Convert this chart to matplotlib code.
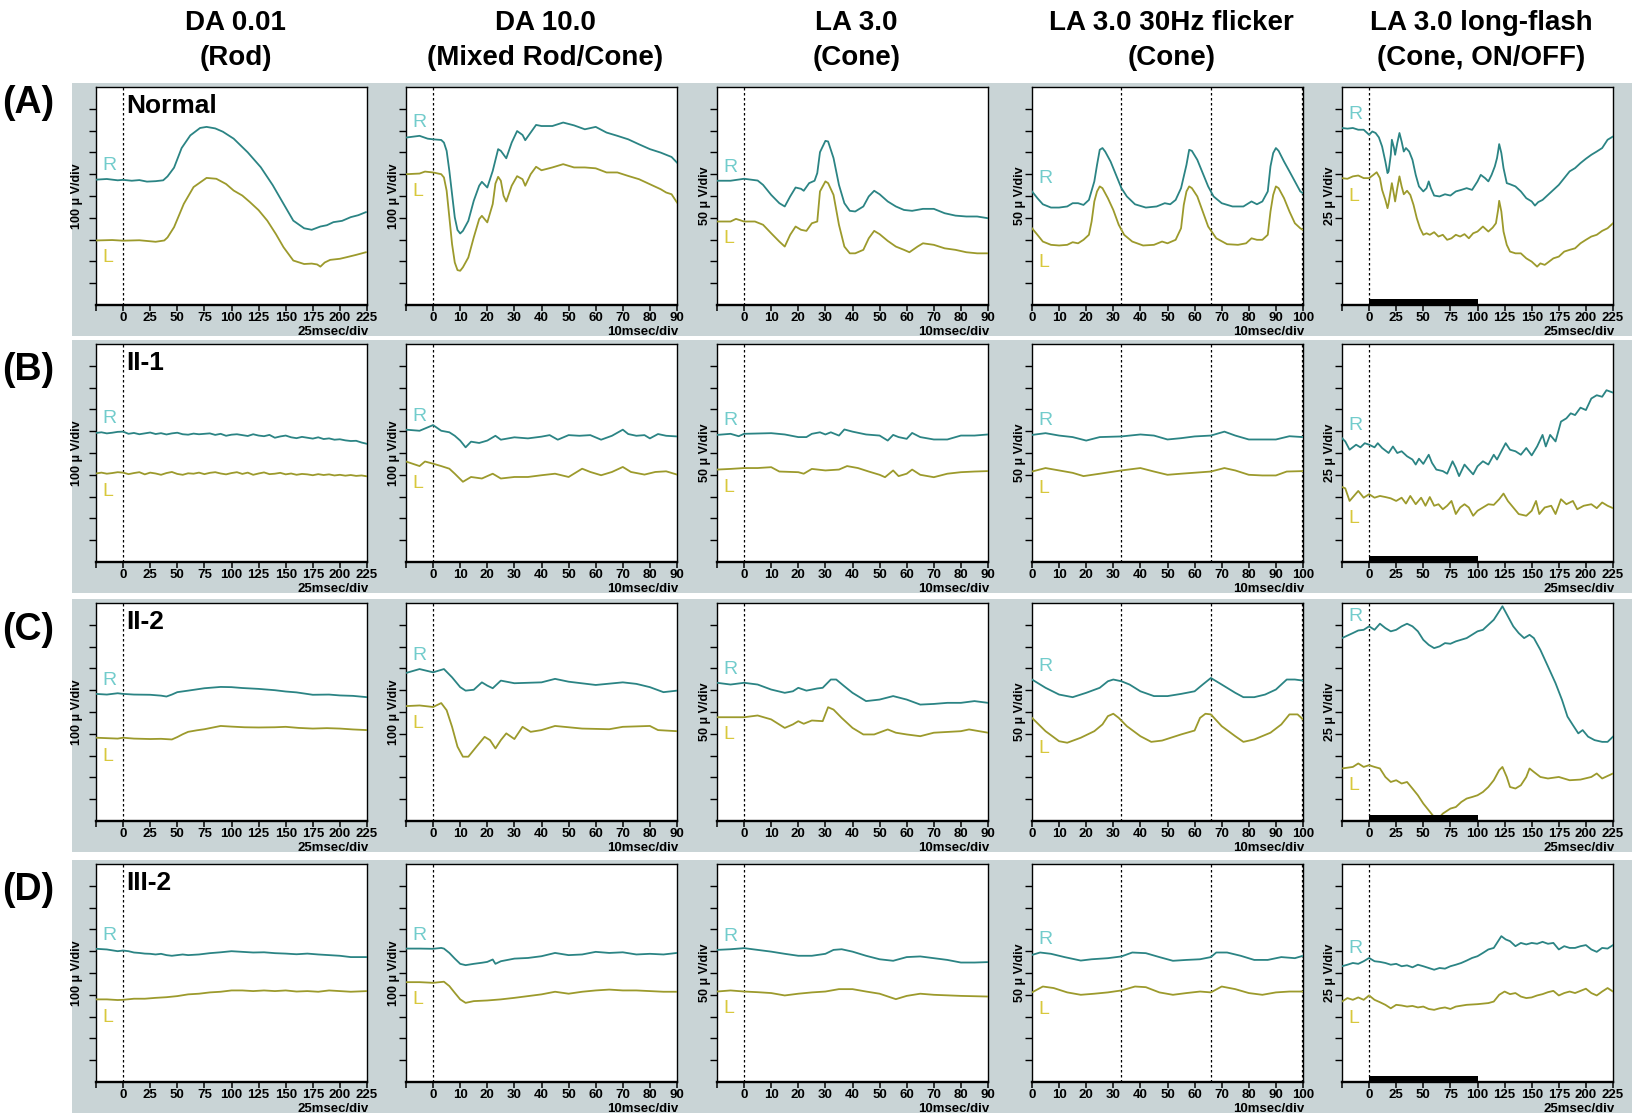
import numpy as np
import matplotlib.pyplot as plt
from matplotlib.patches import Rectangle

plt.rcParams['font.family'] = ['Liberation Sans', 'DejaVu Sans']

# Traces read off the recorder screens: height in divisions above the bottom
# of each 10-division window (scale per column below), time in ms.

grid5 = list(range(-25, 230, 5))

# ---------------- (A) Normal ----------------
A1_R_t = [-25, -15, -5, 0, 8, 15, 22, 30, 37, 41, 47, 54, 62, 71, 77, 85, 92, 102, 115, 127, 138, 148,
          157, 167, 174, 182, 188, 194, 202, 210, 217, 224]
A1_R = [5.75, 5.78, 5.72, 5.74, 5.70, 5.73, 5.66, 5.68, 5.72, 5.90, 6.30, 7.20, 7.78, 8.12, 8.17, 8.10,
        7.95, 7.63, 7.00, 6.32, 5.50, 4.64, 3.87, 3.52, 3.45, 3.60, 3.66, 3.80, 3.86, 4.03, 4.12, 4.26]
A1_L_t = [-25, -10, 0, 15, 30, 38, 41, 47, 56, 65, 77, 86, 95, 102, 110, 117, 125, 133, 141, 148, 157,
          167, 174, 179, 182, 186, 191, 200, 206, 215, 224]
A1_L = [2.96, 2.98, 2.95, 2.97, 2.90, 2.96, 3.10, 3.57, 4.64, 5.41, 5.83, 5.79, 5.55, 5.25, 5.02, 4.72,
        4.35, 3.87, 3.25, 2.65, 2.04, 1.88, 1.90, 1.86, 1.76, 1.95, 2.07, 2.12, 2.19, 2.30, 2.42]

A2_R_t = [-10, -5, -2, 0, 3, 4, 5, 6, 7, 8, 9, 10, 11, 13, 15, 17, 18, 20, 22, 24, 25, 27, 29, 31, 33,
          34, 36, 38, 40, 44, 48, 52, 56, 60, 64, 68, 72, 76, 80, 84, 86, 88, 90]
A2_R = [7.68, 7.76, 7.63, 7.60, 7.57, 7.45, 7.07, 6.15, 5.08, 4.02, 3.44, 3.28, 3.40, 3.86, 4.78, 5.47,
        5.65, 5.39, 6.15, 7.15, 7.07, 6.73, 7.45, 7.98, 7.80, 7.56, 7.91, 8.26, 8.21, 8.21, 8.37, 8.24,
        8.06, 8.17, 7.91, 7.76, 7.60, 7.37, 7.15, 6.99, 6.89, 6.79, 6.53]
A2_L_t = [-10, -5, -3, 0, 3, 4, 5, 6, 7, 8, 9, 10, 11, 13, 15, 17, 18, 20, 22, 23, 24, 25, 26, 27, 29,
          31, 33, 34, 36, 38, 40, 44, 48, 52, 56, 60, 64, 68, 72, 76, 80, 84, 86, 88, 90]
A2_L = [6.00, 6.03, 6.12, 6.08, 6.00, 5.85, 5.24, 4.02, 2.79, 1.95, 1.60, 1.57, 1.73, 2.18, 3.10, 3.94,
        4.09, 3.79, 4.63, 5.57, 5.88, 5.70, 5.01, 4.75, 5.47, 5.91, 5.77, 5.47, 6.00, 6.34, 6.18, 6.31,
        6.46, 6.31, 6.31, 6.27, 6.08, 6.08, 5.92, 5.77, 5.54, 5.31, 5.16, 5.08, 4.70]

A3_R_t = [-10, -5, 0, 5, 7, 10, 13, 15, 17, 19, 21, 22, 24, 26, 27, 28, 30, 31, 33, 35, 37, 39, 41, 44,
          46, 48, 50, 53, 56, 59, 62, 66, 70, 74, 78, 82, 86, 90]
A3_R = [5.70, 5.70, 5.79, 5.71, 5.51, 5.05, 4.67, 4.52, 4.98, 5.39, 5.33, 5.24, 5.59, 5.70, 6.05, 7.01,
        7.53, 7.50, 6.74, 5.51, 4.67, 4.32, 4.29, 4.52, 4.98, 5.24, 5.08, 4.75, 4.52, 4.36, 4.32, 4.41,
        4.41, 4.21, 4.10, 4.06, 4.06, 3.98]
A3_L_t = [-10, -5, -3, 0, 4, 7, 10, 13, 15, 17, 19, 21, 23, 25, 27, 28, 30, 31, 33, 35, 37, 39, 41, 44,
          46, 48, 50, 53, 56, 59, 61, 64, 66, 70, 74, 78, 82, 86, 90]
A3_L = [3.83, 3.83, 3.95, 3.83, 3.83, 3.68, 3.29, 2.91, 2.68, 3.22, 3.60, 3.45, 3.40, 3.75, 3.83, 5.21,
        5.67, 5.59, 5.05, 3.68, 2.68, 2.37, 2.37, 2.53, 3.06, 3.40, 3.25, 2.94, 2.68, 2.53, 2.42, 2.68,
        2.83, 2.76, 2.60, 2.53, 2.42, 2.37, 2.37]

A4_R_t = [0, 2, 4, 7, 10, 13, 15, 17, 19, 21, 23, 24, 25, 26, 27, 29, 31, 33, 35, 38, 42, 46, 49, 51,
          53, 55, 57, 58, 59, 61, 63, 65, 67, 70, 74, 78, 81, 83, 85, 87, 88, 89, 90, 91, 93, 95, 97, 99, 100]
A4_R = [5.21, 4.90, 4.62, 4.47, 4.47, 4.52, 4.67, 4.67, 4.59, 4.82, 5.67, 6.43, 7.12, 7.20, 7.04, 6.58,
        5.97, 5.36, 4.98, 4.62, 4.47, 4.52, 4.67, 4.62, 4.82, 5.36, 6.43, 7.12, 7.07, 6.66, 6.05, 5.44,
        4.98, 4.67, 4.52, 4.52, 4.75, 4.62, 4.75, 5.21, 6.36, 6.97, 7.20, 7.07, 6.58, 6.13, 5.67, 5.21, 5.13]
A4_L_t = [0, 2, 4, 7, 10, 13, 15, 17, 19, 21, 22, 23, 24, 25, 26, 28, 30, 32, 34, 37, 41, 45, 48, 50,
          53, 55, 56, 57, 58, 59, 61, 63, 65, 68, 72, 76, 79, 81, 83, 85, 87, 88, 89, 90, 91, 93, 95, 97,
          99, 100]
A4_L = [3.52, 3.22, 2.91, 2.76, 2.73, 2.76, 2.88, 2.83, 2.99, 3.22, 3.83, 4.75, 5.21, 5.44, 5.36, 4.90,
        4.36, 3.68, 3.22, 2.91, 2.73, 2.76, 2.91, 2.83, 2.99, 3.52, 4.59, 5.21, 5.44, 5.36, 4.98, 4.29,
        3.60, 3.06, 2.79, 2.76, 2.83, 3.06, 2.99, 2.99, 3.22, 4.29, 5.05, 5.44, 5.36, 4.90, 4.29, 3.75,
        3.52, 3.45]

A5_R_t = [-25, -20, -15, -10, -5, 0, 3, 6, 9, 12, 15, 17, 18, 20, 21, 23, 24, 26, 28, 30, 32, 34, 37,
          40, 43, 46, 50, 53, 55, 57, 60, 65, 70, 75, 80, 85, 90, 95, 100, 103, 107, 110, 113, 116, 118,
          119, 120, 122, 124, 127, 130, 135, 140, 145, 150, 153, 156, 160, 165, 170, 175, 180, 185, 190,
          195, 200, 205, 210, 215, 220, 225]
A5_R = [8.12, 8.09, 8.12, 8.04, 8.04, 7.81, 7.96, 7.89, 7.69, 7.27, 6.58, 6.05, 6.13, 6.89, 7.58, 7.20,
        6.89, 7.43, 7.89, 7.50, 7.04, 7.20, 7.04, 6.66, 5.97, 5.44, 5.21, 5.36, 5.67, 5.36, 5.02, 4.98,
        5.08, 5.02, 5.21, 5.28, 5.36, 5.28, 5.67, 5.97, 5.82, 5.67, 5.97, 6.36, 6.74, 7.04, 7.38, 6.97,
        6.28, 5.59, 5.54, 5.44, 5.21, 4.90, 4.75, 4.56, 4.72, 4.82, 5.05, 5.28, 5.51, 5.82, 6.13, 6.28,
        6.51, 6.71, 6.89, 7.04, 7.20, 7.58, 7.73]
A5_L_t = [-25, -20, -15, -10, -5, 0, 4, 7, 10, 12, 15, 17, 18, 20, 21, 23, 24, 26, 28, 30, 32, 35, 38,
          41, 44, 47, 50, 53, 56, 60, 64, 68, 72, 76, 80, 84, 88, 92, 96, 100, 105, 110, 114, 117, 119,
          120, 122, 124, 127, 130, 135, 140, 145, 150, 155, 158, 162, 166, 170, 175, 180, 185, 190, 195,
          200, 205, 210, 215, 220, 225]
A5_L = [5.82, 5.79, 5.90, 5.94, 5.82, 5.82, 5.97, 6.09, 5.82, 5.28, 4.82, 4.44, 4.67, 5.28, 5.59, 5.05,
        4.75, 5.36, 5.90, 5.44, 5.08, 5.24, 5.05, 4.59, 3.98, 3.52, 3.22, 3.29, 3.22, 3.34, 3.14, 3.22,
        2.99, 3.06, 3.22, 3.14, 3.25, 3.06, 3.29, 3.37, 3.60, 3.37, 3.55, 3.75, 4.36, 4.78, 4.29, 3.37,
        2.76, 2.45, 2.37, 2.37, 2.14, 1.99, 1.76, 1.91, 1.84, 1.99, 2.14, 2.22, 2.45, 2.53, 2.60, 2.83,
        2.99, 3.14, 3.22, 3.40, 3.52, 3.75]

# ---------------- (B) II-1 ----------------
B1_R = [5.92, 5.95, 5.90, 5.93, 5.97, 5.98, 5.88, 5.92, 5.86, 5.90, 5.94, 5.87, 5.91, 5.85, 5.90, 5.93,
        5.86, 5.84, 5.89, 5.86, 5.88, 5.90, 5.83, 5.88, 5.79, 5.84, 5.86, 5.82, 5.78, 5.86, 5.80, 5.77,
        5.83, 5.70, 5.76, 5.80, 5.72, 5.68, 5.74, 5.70, 5.66, 5.72, 5.64, 5.67, 5.61, 5.63, 5.58, 5.55,
        5.56, 5.48, 5.42]
B1_L = [4.06, 4.10, 4.05, 4.08, 4.12, 4.10, 4.03, 4.08, 4.12, 4.02, 4.10, 4.06, 4.00, 4.08, 4.13, 4.04,
        4.00, 4.07, 4.05, 4.10, 4.03, 4.09, 4.12, 4.06, 4.02, 4.08, 4.12, 4.04, 4.10, 4.00, 4.06, 4.11,
        4.03, 4.05, 4.09, 4.02, 4.06, 4.00, 4.04, 4.02, 3.98, 4.03, 3.99, 4.02, 3.97, 4.00, 3.96, 3.99,
        3.95, 3.97, 3.93]

B2_R_t = [-10, -5, 0, 3, 6, 8, 10, 12, 14, 17, 20, 23, 25, 30, 35, 40, 43, 46, 50, 54, 58, 62, 66, 70,
          72, 75, 78, 80, 83, 86, 90]
B2_R = [6.07, 6.02, 6.28, 6.02, 5.95, 5.79, 5.57, 5.26, 5.52, 5.46, 5.57, 5.79, 5.61, 5.72, 5.67, 5.75,
        5.82, 5.61, 5.82, 5.79, 5.82, 5.61, 5.79, 6.07, 5.87, 5.79, 5.82, 5.67, 5.87, 5.79, 5.76]
B2_L_t = [-10, -5, -3, 0, 3, 6, 8, 11, 14, 18, 22, 25, 30, 35, 40, 45, 50, 55, 58, 62, 66, 70, 73, 78,
          82, 86, 90]
B2_L = [4.61, 4.40, 4.61, 4.51, 4.40, 4.28, 4.05, 3.68, 3.90, 3.83, 4.05, 3.83, 3.90, 3.90, 3.98, 4.05,
        3.90, 4.28, 4.13, 3.98, 4.13, 4.36, 4.13, 4.01, 4.13, 4.16, 4.01]

B3_R_t = [-10, -5, -2, 0, 10, 15, 20, 23, 25, 28, 30, 32, 35, 37, 40, 45, 50, 53, 55, 57, 60, 62, 65,
          70, 75, 80, 85, 90]
B3_R = [5.83, 5.88, 5.77, 5.88, 5.91, 5.85, 5.73, 5.73, 5.88, 5.95, 5.85, 5.95, 5.80, 6.08, 5.98, 5.85,
        5.80, 5.57, 5.83, 5.73, 5.65, 5.92, 5.73, 5.62, 5.62, 5.80, 5.80, 5.85]
B3_L_t = [-10, -5, 0, 5, 10, 13, 20, 22, 25, 30, 35, 38, 42, 46, 50, 52, 55, 57, 60, 62, 65, 70, 75, 80,
          85, 90]
B3_L = [4.24, 4.27, 4.31, 4.31, 4.35, 4.15, 4.12, 4.05, 4.27, 4.20, 4.24, 4.40, 4.31, 4.15, 4.00, 3.89,
        4.20, 3.94, 4.05, 4.24, 4.00, 3.89, 4.05, 4.12, 4.15, 4.17]

B4_R_t = [0, 5, 10, 15, 20, 25, 33, 40, 45, 50, 55, 60, 66, 71, 75, 80, 90, 95, 100]
B4_R = [5.83, 5.91, 5.80, 5.73, 5.57, 5.73, 5.76, 5.85, 5.80, 5.62, 5.68, 5.76, 5.80, 5.98, 5.80, 5.62,
        5.62, 5.77, 5.73]
B4_L_t = [0, 5, 10, 15, 19, 25, 33, 40, 45, 50, 55, 66, 71, 75, 80, 85, 90, 94, 100]
B4_L = [4.15, 4.31, 4.20, 4.09, 3.94, 4.05, 4.20, 4.31, 4.15, 4.00, 4.05, 4.15, 4.31, 4.20, 4.00, 3.97,
        3.97, 4.15, 4.17]

B5_R_t = [-25, -22, -18, -12, -8, -4, 0, 5, 8, 12, 18, 22, 26, 30, 35, 40, 43, 46, 50, 55, 58, 62, 68,
          72, 77, 80, 83, 88, 92, 96, 100, 105, 110, 115, 118, 122, 126, 130, 135, 140, 145, 150, 155,
          160, 163, 167, 172, 177, 182, 186, 190, 195, 200, 205, 210, 215, 219, 225]
B5_R = [5.68, 5.53, 5.15, 5.38, 5.26, 5.45, 5.38, 5.26, 5.45, 5.23, 5.00, 5.30, 5.00, 5.08, 4.85, 4.70,
        4.47, 4.74, 4.50, 4.92, 4.55, 4.24, 4.17, 4.05, 4.62, 4.32, 3.94, 4.47, 4.24, 4.02, 4.39, 4.62,
        4.47, 4.92, 4.70, 5.08, 5.45, 5.15, 5.08, 4.92, 5.23, 4.89, 5.30, 5.83, 5.30, 5.83, 5.53, 6.44,
        6.59, 6.82, 6.74, 7.08, 6.97, 7.50, 7.65, 7.58, 7.88, 7.77]
B5_L_t = [-25, -22, -18, -14, -10, -5, 0, 5, 10, 15, 20, 25, 30, 34, 38, 43, 48, 52, 56, 60, 64, 68, 72,
          76, 80, 84, 88, 92, 96, 100, 106, 110, 115, 120, 124, 128, 133, 138, 145, 150, 154, 157, 162,
          168, 172, 177, 182, 188, 192, 198, 205, 210, 215, 220, 225]
B5_L = [3.44, 3.38, 2.80, 3.03, 3.26, 2.95, 3.11, 2.95, 3.03, 2.98, 2.92, 2.80, 2.95, 2.68, 3.03, 2.65,
        2.95, 2.58, 2.98, 2.58, 2.65, 2.42, 2.58, 2.80, 2.20, 2.50, 2.65, 2.50, 2.12, 2.35, 2.53, 2.65,
        2.62, 2.88, 3.14, 2.80, 2.50, 2.20, 2.12, 2.35, 2.80, 2.20, 2.50, 2.58, 2.20, 2.88, 2.65, 2.80,
        2.42, 2.58, 2.65, 2.47, 2.73, 2.58, 2.47]

# ---------------- (C) II-2 ----------------
C1_R_t = [-25, -15, -5, 0, 10, 25, 35, 40, 45, 50, 60, 75, 90, 100, 110, 125, 140, 150, 160, 175, 190,
          200, 212, 225]
C1_R = [5.83, 5.80, 5.86, 5.83, 5.80, 5.79, 5.75, 5.71, 5.80, 5.91, 5.98, 6.09, 6.15, 6.14, 6.10, 6.06,
        6.00, 5.94, 5.90, 5.79, 5.80, 5.76, 5.74, 5.68]
C1_L_t = [-25, -15, -5, 0, 10, 25, 35, 45, 50, 55, 60, 68, 75, 90, 100, 112, 125, 140, 150, 162, 175,
          188, 200, 212, 225]
C1_L = [3.82, 3.80, 3.78, 3.82, 3.78, 3.76, 3.77, 3.74, 3.85, 3.98, 4.09, 4.16, 4.21, 4.36, 4.33, 4.30,
        4.29, 4.30, 4.32, 4.27, 4.24, 4.26, 4.24, 4.20, 4.17]

C2_R_t = [-10, -5, 0, 4, 7, 10, 12, 15, 18, 20, 22, 25, 30, 40, 45, 50, 60, 70, 75, 80, 85, 90]
C2_R = [6.79, 6.97, 6.82, 6.97, 6.59, 6.14, 5.98, 6.02, 6.36, 6.21, 6.09, 6.44, 6.32, 6.36, 6.52, 6.39,
        6.24, 6.36, 6.29, 6.14, 5.91, 5.98]
C2_L_t = [-10, -5, 0, 3, 5, 7, 9, 11, 13, 16, 19, 21, 23, 25, 27, 30, 33, 36, 40, 45, 55, 65, 70, 80,
          83, 90]
C2_L = [5.27, 5.30, 5.23, 5.41, 5.08, 4.32, 3.41, 2.95, 2.95, 3.41, 3.86, 3.71, 3.33, 3.71, 4.02, 3.76,
        4.32, 4.09, 4.17, 4.36, 4.24, 4.21, 4.32, 4.36, 4.17, 4.12]

C3_R_t = [-10, -5, 0, 5, 10, 15, 18, 20, 23, 27, 29, 32, 34, 37, 40, 45, 50, 55, 60, 65, 70, 75, 80,
          85, 90]
C3_R = [6.34, 6.26, 6.34, 6.26, 6.03, 5.88, 5.95, 6.11, 5.98, 6.08, 6.11, 6.49, 6.49, 6.18, 5.88, 5.50,
        5.57, 5.73, 5.57, 5.34, 5.37, 5.42, 5.42, 5.50, 5.42]
C3_L_t = [-10, 0, 5, 10, 15, 18, 20, 22, 25, 29, 31, 33, 36, 40, 44, 48, 53, 56, 60, 65, 70, 80, 83, 90]
C3_L = [4.76, 4.76, 4.84, 4.66, 4.27, 4.43, 4.58, 4.46, 4.61, 4.58, 5.22, 5.11, 4.73, 4.27, 3.97, 3.97,
        4.20, 4.05, 3.97, 3.89, 4.05, 4.12, 4.20, 4.05]

C4_R_t = [0, 5, 10, 15, 20, 25, 28, 30, 33, 36, 40, 45, 50, 55, 60, 63, 66, 70, 75, 78, 82, 86, 90, 94,
          97, 100]
C4_R = [6.49, 6.11, 5.80, 5.68, 5.88, 6.11, 6.41, 6.49, 6.41, 6.26, 5.95, 5.73, 5.73, 5.83, 5.95, 6.26,
        6.56, 6.26, 5.88, 5.68, 5.68, 5.80, 6.03, 6.49, 6.49, 6.44]
C4_L_t = [0, 5, 10, 13, 18, 23, 26, 28, 30, 32, 35, 40, 44, 48, 55, 60, 62, 64, 66, 70, 75, 78, 82, 88,
          92, 95, 98, 100]
C4_L = [4.73, 4.12, 3.66, 3.59, 3.82, 4.12, 4.43, 4.81, 4.92, 4.73, 4.35, 3.89, 3.63, 3.69, 3.97, 4.15,
        4.73, 4.92, 4.89, 4.35, 3.89, 3.63, 3.74, 4.05, 4.43, 4.89, 4.89, 4.66]

C5_R_t = [-25, -15, -10, -5, 0, 5, 10, 15, 20, 25, 30, 35, 40, 45, 50, 55, 60, 65, 70, 75, 80, 90, 100,
          105, 110, 115, 118, 123, 128, 133, 138, 143, 148, 152, 158, 165, 172, 178, 183, 188, 193, 197,
          202, 208, 215, 220, 225]
C5_R = [8.39, 8.62, 8.74, 8.77, 8.93, 8.77, 9.05, 8.85, 8.70, 8.77, 8.93, 9.05, 8.93, 8.70, 8.31, 8.08,
        7.93, 8.01, 8.16, 8.13, 8.24, 8.39, 8.70, 8.77, 9.00, 9.23, 9.46, 9.85, 9.39, 8.93, 8.62, 8.39,
        8.54, 8.39, 7.85, 7.09, 6.32, 5.55, 4.79, 4.40, 4.02, 4.17, 3.87, 3.71, 3.63, 3.63, 3.87]
C5_L_t = [-25, -15, -10, -5, 0, 5, 10, 15, 20, 25, 30, 35, 40, 45, 50, 55, 60, 63, 68, 75, 80, 85, 90,
          95, 100, 105, 110, 115, 120, 123, 127, 130, 135, 140, 145, 148, 152, 158, 165, 175, 185, 195,
          205, 210, 215, 225]
C5_L = [2.41, 2.48, 2.64, 2.48, 2.56, 2.48, 2.41, 2.02, 1.79, 1.87, 1.72, 1.79, 1.49, 1.18, 0.80, 0.49,
        0.18, 0.06, 0.34, 0.57, 0.64, 0.87, 1.03, 1.10, 1.18, 1.33, 1.56, 1.87, 2.33, 2.48, 2.02, 1.56,
        1.49, 1.64, 2.02, 2.41, 2.25, 2.02, 1.95, 2.02, 1.87, 1.90, 2.02, 2.18, 1.95, 2.18]

# ---------------- (D) III-2 ----------------
D1_R_t = [-25, -15, -5, 0, 5, 10, 15, 20, 25, 30, 35, 40, 45, 50, 55, 60, 70, 80, 90, 100, 110, 120,
          130, 140, 150, 160, 170, 180, 190, 200, 210, 225]
D1_R = [6.11, 6.08, 6.00, 6.03, 6.00, 5.94, 5.92, 5.89, 5.88, 5.85, 5.88, 5.82, 5.79, 5.82, 5.85, 5.82,
        5.85, 5.91, 5.95, 6.00, 5.97, 5.94, 5.95, 5.91, 5.89, 5.86, 5.89, 5.85, 5.82, 5.79, 5.73, 5.73]
D1_L_t = [-25, -15, -5, 0, 10, 20, 30, 40, 50, 60, 70, 80, 90, 100, 110, 120, 130, 140, 150, 160, 170,
          180, 190, 200, 210, 225]
D1_L = [3.79, 3.79, 3.76, 3.77, 3.82, 3.82, 3.86, 3.89, 3.94, 4.02, 4.05, 4.11, 4.14, 4.20, 4.20, 4.17,
        4.20, 4.17, 4.20, 4.15, 4.17, 4.14, 4.20, 4.17, 4.14, 4.17]

D2_R_t = [-10, -5, 0, 3, 4, 6, 8, 10, 12, 15, 18, 20, 22, 23, 25, 30, 35, 40, 45, 50, 55, 60, 65, 70,
          75, 80, 85, 90]
D2_R = [6.12, 6.12, 6.11, 6.15, 6.12, 5.92, 5.66, 5.42, 5.36, 5.42, 5.47, 5.51, 5.62, 5.42, 5.54, 5.66,
        5.69, 5.77, 5.92, 5.82, 5.85, 5.97, 5.92, 5.95, 5.85, 5.88, 5.85, 5.92]
D2_L_t = [-10, -5, 0, 4, 6, 8, 10, 12, 15, 20, 25, 30, 35, 40, 45, 50, 55, 60, 65, 70, 75, 80, 85, 90]
D2_L = [4.58, 4.58, 4.55, 4.60, 4.40, 4.09, 3.79, 3.63, 3.71, 3.74, 3.79, 3.86, 3.94, 4.02, 4.14, 4.05,
        4.14, 4.20, 4.24, 4.20, 4.20, 4.17, 4.14, 4.14]

D3_R_t = [-10, -5, 0, 5, 10, 15, 20, 25, 30, 33, 36, 40, 45, 50, 55, 60, 65, 70, 75, 80, 85, 90]
D3_R = [6.06, 6.09, 6.14, 6.06, 5.98, 5.88, 5.79, 5.79, 5.88, 6.06, 6.09, 5.98, 5.79, 5.63, 5.56, 5.73,
        5.76, 5.68, 5.60, 5.48, 5.48, 5.50]
D3_L_t = [-10, -5, 0, 5, 10, 15, 20, 25, 30, 35, 40, 45, 50, 56, 60, 65, 70, 80, 90]
D3_L = [4.15, 4.20, 4.15, 4.12, 4.08, 3.97, 4.05, 4.11, 4.15, 4.26, 4.26, 4.15, 4.05, 3.80, 3.95, 4.05,
        4.00, 3.95, 3.92]

D4_R_t = [0, 3, 7, 12, 18, 22, 28, 33, 37, 42, 47, 52, 57, 62, 66, 68, 72, 77, 82, 87, 92, 97, 100]
D4_R = [5.83, 5.94, 5.88, 5.73, 5.57, 5.63, 5.68, 5.76, 5.94, 5.91, 5.73, 5.56, 5.60, 5.63, 5.73, 5.94,
        5.94, 5.79, 5.60, 5.60, 5.73, 5.68, 5.79]
D4_L_t = [0, 4, 8, 13, 18, 23, 28, 33, 38, 42, 47, 52, 57, 62, 66, 70, 75, 80, 85, 90, 95, 100]
D4_L = [4.11, 4.38, 4.31, 4.11, 4.00, 4.05, 4.11, 4.20, 4.38, 4.35, 4.11, 4.00, 4.08, 4.15, 4.11, 4.38,
        4.26, 4.08, 4.00, 4.11, 4.15, 4.15]

D5_R_t = [-25, -20, -15, -10, -5, 0, 5, 10, 15, 20, 25, 30, 35, 40, 45, 50, 55, 60, 65, 70, 75, 80, 85,
          90, 95, 100, 105, 110, 115, 118, 122, 126, 130, 135, 140, 145, 150, 155, 160, 165, 170, 175,
          180, 185, 190, 195, 200, 205, 210, 215, 220, 225]
D5_R = [5.31, 5.38, 5.46, 5.42, 5.54, 5.69, 5.54, 5.51, 5.46, 5.38, 5.42, 5.31, 5.35, 5.26, 5.38, 5.31,
        5.23, 5.15, 5.23, 5.20, 5.31, 5.38, 5.46, 5.57, 5.69, 5.77, 5.92, 6.08, 6.15, 6.38, 6.69, 6.54,
        6.46, 6.23, 6.38, 6.31, 6.38, 6.34, 6.43, 6.34, 6.38, 6.08, 6.23, 6.15, 6.15, 6.23, 6.28, 6.08,
        5.97, 6.15, 6.12, 6.28]
D5_L_t = [-25, -20, -15, -10, -5, 0, 5, 10, 15, 20, 25, 30, 35, 40, 45, 50, 55, 60, 65, 70, 75, 80, 90,
          100, 110, 115, 120, 125, 130, 135, 140, 145, 150, 155, 160, 165, 170, 175, 180, 185, 190, 195,
          200, 205, 210, 215, 220, 225]
D5_L = [3.69, 3.85, 3.77, 3.88, 3.77, 3.97, 3.77, 3.66, 3.54, 3.38, 3.54, 3.51, 3.46, 3.49, 3.42, 3.46,
        3.35, 3.31, 3.38, 3.42, 3.35, 3.46, 3.54, 3.57, 3.62, 3.69, 4.00, 4.15, 4.03, 4.08, 3.92, 3.85,
        3.88, 3.97, 4.03, 4.12, 4.18, 3.97, 4.08, 4.15, 4.08, 4.18, 4.28, 4.08, 3.97, 4.15, 4.31, 4.15]

traces = [
    [(A1_R_t, A1_R, A1_L_t, A1_L), (A2_R_t, A2_R, A2_L_t, A2_L), (A3_R_t, A3_R, A3_L_t, A3_L),
     (A4_R_t, A4_R, A4_L_t, A4_L), (A5_R_t, A5_R, A5_L_t, A5_L)],
    [(grid5, B1_R, grid5, B1_L), (B2_R_t, B2_R, B2_L_t, B2_L), (B3_R_t, B3_R, B3_L_t, B3_L),
     (B4_R_t, B4_R, B4_L_t, B4_L), (B5_R_t, B5_R, B5_L_t, B5_L)],
    [(C1_R_t, C1_R, C1_L_t, C1_L), (C2_R_t, C2_R, C2_L_t, C2_L), (C3_R_t, C3_R, C3_L_t, C3_L),
     (C4_R_t, C4_R, C4_L_t, C4_L), (C5_R_t, C5_R, C5_L_t, C5_L)],
    [(D1_R_t, D1_R, D1_L_t, D1_L), (D2_R_t, D2_R, D2_L_t, D2_L), (D3_R_t, D3_R, D3_L_t, D3_L),
     (D4_R_t, D4_R, D4_L_t, D4_L), (D5_R_t, D5_R, D5_L_t, D5_L)],
]

col_titles = [("DA 0.01", "(Rod)"), ("DA 10.0", "(Mixed Rod/Cone)"), ("LA 3.0", "(Cone)"),
              ("LA 3.0 30Hz flicker", "(Cone)"), ("LA 3.0 long-flash", "(Cone, ON/OFF)")]
col_scale = [100, 100, 50, 50, 25]          # µV/div
col_xlim = [(-25, 225), (-10, 90), (-10, 90), (0, 100), (-25, 225)]
col_msdiv = [25, 10, 10, 10, 25]
col_markers = [[0], [0], [0], [33, 66, 99.5], [0]]
flash_on = (0, 100)                          # long-flash stimulus (last column)
row_tags = ["(A)", "(B)", "(C)", "(D)"]
row_names = ["Normal", "II-1", "II-2", "III-2"]

# ---- layout (pixels of the 1632x1115 canvas) ----
W, H = 1632, 1115
col_left = [96, 406, 717, 1032, 1342]
col_w = 271
row_top = [87, 344, 603, 864]
row_h = 218
tag_y = [103, 370, 630, 890]
ylab_off = [19, 12, 12, 12, 12]

R_COL, L_COL = '#2b8484', '#9c9a2c'
R_TXT, L_TXT = '#72cccc', '#d8c83c'
BAND = '#c9d4d6'

fig = plt.figure(figsize=(W / 100, H / 100), dpi=100)
fig.patch.set_facecolor('white')

for c, ct in enumerate(col_titles):
    xx = col_left[c] + col_w / 2 + 4
    for k, line in enumerate(ct):
        fig.text(xx / W, 1 - (23 + 35 * k) / H, line, ha='center', va='center', fontsize=20,
                 fontweight='bold', family=['Liberation Sans Narrow', 'Liberation Sans', 'DejaVu Sans'])

for r in range(4):
    top = row_top[r]
    fig.add_artist(Rectangle((72 / W, 1 - (top + row_h + 31) / H), 1 - 72 / W, (row_h + 35) / H,
                             transform=fig.transFigure, facecolor=BAND, edgecolor='none', zorder=0))
    fig.text(28 / W, 1 - tag_y[r] / H, row_tags[r], ha='center', va='center', fontsize=27,
             fontweight='bold')

    for c in range(5):
        ax = fig.add_axes([col_left[c] / W, 1 - (top + row_h) / H, col_w / W, row_h / H])
        ax.set_facecolor('white')
        ax.set_zorder(2)
        x0, x1 = col_xlim[c]
        ax.set_xlim(x0, x1)
        ax.set_ylim(0, 10)

        ticks = np.arange(x0, x1 + 0.1, col_msdiv[c])
        ax.set_xticks(ticks)
        ax.set_xticklabels([f"{t:g}" if t >= 0 else "" for t in ticks], fontsize=9.5, fontweight='bold')
        ax.set_yticks(range(1, 10))
        ax.set_yticklabels([])
        ax.tick_params(axis='x', length=4, width=1.1, pad=1)
        ax.tick_params(axis='y', length=5, width=1)
        for sp in ax.spines.values():
            sp.set_linewidth(1.0)
        ax.spines['bottom'].set_linewidth(1.7)

        for m in col_markers[c]:
            ax.axvline(m, color='k', lw=0.9, ls=(0, (2, 2)), zorder=1)

        tR, vR, tL, vL = traces[r][c]
        ax.plot(tR, vR, color=R_COL, lw=1.3, zorder=3)
        ax.plot(tL, vL, color=L_COL, lw=1.3, zorder=3)

        # channel labels sit just above / below the start of each trace
        win = x0 + 0.08 * (x1 - x0)
        yR = max(v for t, v in zip(tR, vR) if t <= win) + 0.6
        yL = min(v for t, v in zip(tL, vL) if t <= win) - 0.8
        tr = ax.get_yaxis_transform()
        ax.text(0.022, yR, "R", color=R_TXT, fontsize=14, ha='left', va='center', transform=tr)
        ax.text(0.022, yL, "L", color=L_TXT, fontsize=14, ha='left', va='center', transform=tr)

        if c == 4:
            ax.add_patch(Rectangle((flash_on[0], 0), flash_on[1] - flash_on[0], 0.28,
                                   facecolor='k', edgecolor='none', zorder=4))
        if c == 0:
            ax.text(2.5, 9.68, row_names[r], fontsize=19, fontweight='bold', ha='left', va='top')

        ax.text(-ylab_off[c] / col_w, 0.5, f"{col_scale[c]} \u03bc V/div", rotation=90, fontsize=9,
                fontweight='bold', ha='center', va='center', transform=ax.transAxes)
        ax.text(1.005, -27 / row_h, f"{col_msdiv[c]}msec/div", fontsize=9.5, fontweight='bold',
                ha='right', va='center', transform=ax.transAxes)

fig.savefig("out.png", dpi=100)
